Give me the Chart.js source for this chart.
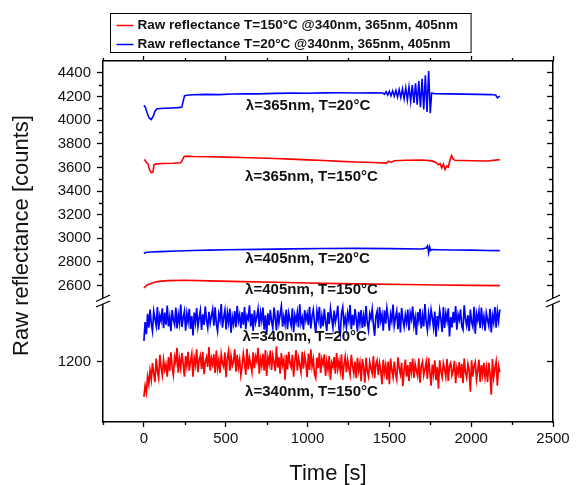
<!DOCTYPE html>
<html>
<head>
<meta charset="utf-8">
<script src="https://cdn.jsdelivr.net/npm/chart.js@4.4.1/dist/chart.umd.min.js"></script>
<style>
html, body { margin: 0; padding: 0; background: #fff; }
</style>
</head>
<body>
<canvas id="chart" width="578" height="485"></canvas>
<script>
// --- data ---
const legendLabels = [
    'Raw reflectance T=150\u00B0C @340nm, 365nm, 405nm',
    'Raw reflectance T=20\u00B0C @340nm, 365nm, 405nm'
];

const xTicks = [0, 500, 1000, 1500, 2000, 2500];
const xMinorTicks = [-250, 250, 750, 1250, 1750, 2250];
const yUpperTicks = [2600, 2800, 3000, 3200, 3400, 3600, 3800, 4000, 4200, 4400];
const yUpperMinorTicks = [2700, 2900, 3100, 3300, 3500, 3700, 3900, 4100, 4300];
const yLowerTicks = [1200];

// lambda = 365nm, T = 20C
const blue365Time = [0, 8, 20, 32, 45, 58, 68, 80, 100, 130,
    170, 210, 232, 240, 248, 260, 300, 380, 460, 540,
    620, 700, 800, 900, 1000, 1100, 1200, 1300, 1400, 1460,
    1470, 1480, 1490, 1500, 1510, 1520, 1530, 1540, 1550, 1560,
    1570, 1580, 1590, 1600, 1610, 1620, 1630, 1640, 1650, 1660,
    1670, 1680, 1690, 1700, 1710, 1720, 1730, 1740, 1750,
    1758, 1780, 1850, 1950, 2050, 2120, 2150, 2160, 2166, 2175];
const blue365Value = [4125, 4112, 4060, 4018, 4005, 4035, 4078, 4095, 4098, 4100,
    4103, 4106, 4110, 4160, 4205, 4210, 4214, 4218, 4216, 4221,
    4223, 4222, 4226, 4228, 4227, 4230, 4231, 4229, 4232, 4230,
    4218, 4240, 4212, 4244, 4206, 4248, 4202, 4252, 4196, 4258,
    4190, 4264, 4180, 4272, 4170, 4282, 4158, 4296, 4146, 4312,
    4130, 4330, 4110, 4350, 4090, 4380, 4068, 4415, 4058,
    4228, 4224, 4222, 4220, 4218, 4216, 4212, 4188, 4195, 4203];

// lambda = 365nm, T = 150C
const red365Time = [0, 8, 15, 25, 35, 45, 55, 62, 75, 120,
    180, 225, 235, 245, 260, 300, 400, 500, 600, 700,
    800, 900, 1000, 1100, 1200, 1300, 1400, 1480, 1495, 1510,
    1530, 1600, 1700, 1760, 1785, 1800, 1810, 1820, 1830, 1840,
    1850, 1860, 1870, 1880, 1890, 1900, 2000, 2100, 2175];
const red365Value = [3665, 3660, 3642, 3630, 3578, 3555, 3560, 3622, 3630, 3633,
    3635, 3640, 3662, 3690, 3695, 3692, 3690, 3687, 3684, 3680,
    3675, 3670, 3664, 3658, 3651, 3646, 3641, 3636, 3652, 3642,
    3656, 3660, 3663, 3655, 3642, 3622, 3632, 3596, 3626, 3582,
    3612, 3602, 3660, 3700, 3672, 3660, 3656, 3654, 3666];

// lambda = 405nm, T = 20C
const blue405Time = [0, 10, 40, 100, 200, 300, 400, 500, 700, 900,
    1100, 1300, 1500, 1700, 1725, 1733, 1740, 1746, 1752, 1760,
    1800, 1900, 2000, 2100, 2175];
const blue405Value = [2872, 2880, 2884, 2888, 2893, 2897, 2900, 2903, 2907, 2911,
    2914, 2915, 2913, 2910, 2918, 2936, 2878, 2928, 2898, 2906,
    2904, 2902, 2900, 2897, 2896];

// lambda = 405nm, T = 150C
const red405Time = [0, 8, 20, 40, 60, 90, 150, 250, 400, 600,
    800, 1000, 1200, 1400, 1600, 1800, 2000, 2175];
const red405Value = [2580, 2592, 2606, 2616, 2626, 2636, 2642, 2645, 2640, 2634,
    2628, 2622, 2617, 2613, 2609, 2605, 2602, 2600];

// lambda = 340nm, sampled every 7.5 s from t = 0
const sampleStep = 7.5;
const blue340Value = [
    1268, 1330, 1290, 1358, 1312, 1372, 1325, 1300, 1366, 1341, 1318, 1380, 1305, 1352, 1334, 1376, 1310, 1362, 1322, 1385,
    1316, 1348, 1300, 1370, 1338, 1322, 1378, 1309, 1355, 1327, 1388, 1314, 1345, 1366, 1302, 1359, 1331, 1374, 1308, 1350,
    1286, 1362, 1329, 1377, 1315, 1343, 1368, 1304, 1356, 1321, 1382, 1336, 1311, 1364, 1326, 1350, 1372, 1318, 1379, 1325,
    1300, 1357, 1337, 1390, 1312, 1346, 1370, 1306, 1361, 1330, 1375, 1295, 1348, 1324, 1367, 1313, 1384, 1333, 1354, 1310,
    1363, 1322, 1380, 1307, 1351, 1340, 1386, 1316, 1358, 1301, 1369, 1328, 1347, 1374, 1314, 1362, 1335, 1378, 1305, 1353,
    1289, 1359, 1320, 1371, 1333, 1311, 1378, 1344, 1303, 1369, 1327, 1356, 1384, 1315, 1349, 1323, 1372, 1307, 1360, 1338,
    1318, 1376, 1297, 1352, 1331, 1362, 1313, 1389, 1326, 1345, 1305, 1370, 1336, 1357, 1320, 1381, 1309, 1349, 1371, 1328,
    1294, 1366, 1339, 1381, 1309, 1350, 1317, 1374, 1332, 1301, 1363, 1324, 1375, 1343, 1312, 1368, 1330, 1352, 1384, 1306,
    1290, 1358, 1379, 1322, 1346, 1312, 1360, 1335, 1387, 1306, 1354, 1319, 1373, 1340, 1299, 1364, 1327, 1370, 1311, 1350,
    1315, 1383, 1329, 1304, 1358, 1341, 1373, 1322, 1285, 1348, 1365, 1310, 1380, 1334, 1355, 1302, 1369, 1325, 1376, 1343,
    1302, 1356, 1333, 1388, 1318, 1345, 1367, 1307, 1362, 1296, 1377, 1338, 1314, 1354, 1329, 1372, 1303, 1360, 1340, 1382,
    1320, 1346, 1288, 1363, 1335, 1374, 1309, 1352, 1316, 1390, 1331, 1303, 1357, 1325, 1371, 1344, 1312, 1365, 1282, 1350,
    1321, 1369, 1340, 1298, 1380, 1311, 1359, 1334, 1376, 1283, 1347, 1313, 1364, 1328, 1383, 1305, 1355, 1337, 1372, 1316,
    1305, 1386, 1342, 1318, 1353, 1300, 1372, 1330, 1315, 1381, 1292, 1358, 1336, 1366, 1310, 1378, 1324, 1349, 1302, 1360,
    1338, 1318, 1374, 1296, 1352, 1329, 1380, 1312, 1366, 1334, 1372];
const red340Value = [
    1083, 1120, 1098, 1150, 1125, 1170, 1140, 1195, 1160, 1132, 1210, 1168, 1145, 1222, 1180, 1155, 1205, 1172, 1190, 1150,
    1215, 1168, 1230, 1182, 1155, 1215, 1196, 1245, 1163, 1208, 1178, 1228, 1192, 1150, 1218, 1185, 1232, 1170, 1200, 1225,
    1150, 1212, 1188, 1240, 1165, 1205, 1220, 1175, 1232, 1158, 1198, 1214, 1182, 1248, 1170, 1210, 1190, 1224, 1162, 1236,
    1176, 1204, 1162, 1224, 1195, 1182, 1230, 1148, 1212, 1235, 1170, 1218, 1186, 1200, 1240, 1166, 1222, 1180, 1206, 1155,
    1183, 1226, 1196, 1156, 1242, 1174, 1212, 1190, 1166, 1230, 1178, 1216, 1200, 1245, 1160, 1208, 1185, 1225, 1170, 1238,
    1152, 1214, 1192, 1236, 1172, 1220, 1198, 1168, 1250, 1180, 1214, 1160, 1228, 1188, 1206, 1140, 1222, 1174, 1232, 1195,
    1181, 1222, 1150, 1205, 1238, 1170, 1211, 1188, 1164, 1232, 1176, 1219, 1194, 1148, 1226, 1172, 1240, 1184, 1208, 1158,
    1145, 1213, 1178, 1229, 1162, 1208, 1190, 1224, 1152, 1200, 1172, 1218, 1140, 1196, 1182, 1215, 1160, 1228, 1175, 1202,
    1170, 1224, 1140, 1190, 1216, 1165, 1205, 1178, 1155, 1222, 1186, 1160, 1200, 1145, 1212, 1170, 1196, 1135, 1208, 1180,
    1130, 1212, 1168, 1150, 1198, 1176, 1160, 1218, 1145, 1190, 1204, 1156, 1195, 1170, 1125, 1206, 1162, 1188, 1140, 1200,
    1125, 1210, 1172, 1148, 1200, 1160, 1140, 1214, 1180, 1158, 1196, 1118, 1170, 1206, 1150, 1188, 1135, 1198, 1165, 1210,
    1146, 1192, 1170, 1152, 1210, 1130, 1185, 1200, 1155, 1175, 1198, 1142, 1212, 1165, 1120, 1190, 1158, 1204, 1138, 1182,
    1110, 1204, 1168, 1148, 1194, 1175, 1150, 1208, 1136, 1186, 1196, 1154, 1170, 1202, 1128, 1180, 1160, 1198, 1145, 1192,
    1128, 1210, 1164, 1146, 1192, 1172, 1100, 1204, 1150, 1185, 1198, 1140, 1170, 1206, 1132, 1188, 1155, 1196, 1148, 1180,
    1132, 1196, 1160, 1090, 1208, 1148, 1178, 1200, 1120, 1185, 1165];

const annotations = [
    { text: '\u03BB=365nm, T=20\u00B0C', t: 1003, v: 4117, axis: 'yUp' },
    { text: '\u03BB=365nm, T=150\u00B0C', t: 1024, v: 3521, axis: 'yUp' },
    { text: '\u03BB=405nm, T=20\u00B0C', t: 1000, v: 2826, axis: 'yUp' },
    { text: '\u03BB=405nm, T=150\u00B0C', t: 1024, v: 2563, axis: 'yUp' },
    { text: '\u03BB=340nm, T=20\u00B0C', t: 982, v: 1282, axis: 'yLow' },
    { text: '\u03BB=340nm, T=150\u00B0C', t: 1024, v: 1101, axis: 'yLow' }
];

const RED = '#ff0000';
const BLUE = '#0000ff';
const FONT = '"Liberation Sans", Arial, sans-serif';

function pairs(times, values) {
    return values.map((v, i) => ({ x: times[i], y: v }));
}
function sampled(values) {
    return values.map((v, i) => ({ x: i * sampleStep, y: v }));
}

function lineSet(data, color, axis, width) {
    return {
        data: data,
        borderColor: color,
        borderWidth: width,
        pointRadius: 0,
        tension: 0,
        fill: false,
        yAxisID: axis
    };
}

// fixed tick lists
function setTicks(list) {
    return scale => { scale.ticks = list.map(v => ({ value: v })); };
}

const axisGrid = {
    display: true,
    drawOnChartArea: false,
    drawTicks: true,
    tickLength: 6,
    tickWidth: 1.3,
    tickColor: '#000'
};
const axisBorder = { display: true, color: '#000', width: 1.5 };
const tickFont = { family: FONT, size: 15 };

// minor ticks, axis breaks, titles, labels, legend
const decorPlugin = {
    id: 'decor',
    afterDraw(chart) {
        const ctx = chart.ctx;
        const area = chart.chartArea;
        const sx = chart.scales.x;
        const yUp = chart.scales.yUp;
        const yLow = chart.scales.yLow;
        ctx.save();
        ctx.strokeStyle = '#000';
        ctx.lineWidth = 1.3;

        ctx.beginPath();
        xMinorTicks.forEach(v => {
            const px = Math.round(sx.getPixelForValue(v)) + 0.5;
            ctx.moveTo(px, area.bottom);
            ctx.lineTo(px, area.bottom + 3);
            ctx.moveTo(px, area.top);
            ctx.lineTo(px, area.top - 3);
        });
        yUpperMinorTicks.forEach(v => {
            const py = Math.round(yUp.getPixelForValue(v)) + 0.5;
            ctx.moveTo(area.left - 4, py);
            ctx.lineTo(area.left, py);
            ctx.moveTo(area.right, py);
            ctx.lineTo(area.right - 4, py);
        });
        ctx.stroke();

        // axis break marks
        const by = yLow.top;
        [area.left, area.right].forEach(bx => {
            ctx.fillStyle = '#fff';
            ctx.beginPath();
            ctx.moveTo(bx - 7, by + 0.5);
            ctx.lineTo(bx + 7, by - 6);
            ctx.lineTo(bx + 7, by);
            ctx.lineTo(bx - 7, by + 6);
            ctx.closePath();
            ctx.fill();
            ctx.beginPath();
            ctx.moveTo(bx - 7, by + 0.5);
            ctx.lineTo(bx + 7, by - 6);
            ctx.moveTo(bx - 7, by + 6);
            ctx.lineTo(bx + 7, by);
            ctx.stroke();
        });

        // y title
        ctx.fillStyle = '#111';
        ctx.font = '22px ' + FONT;
        ctx.textAlign = 'center';
        ctx.textBaseline = 'middle';
        ctx.save();
        ctx.translate(22, (area.top + area.bottom) / 2 - 6);
        ctx.rotate(-Math.PI / 2);
        ctx.fillText('Raw reflectance [counts]', 0, 0);
        ctx.restore();

        // curve labels
        ctx.font = 'bold 15px ' + FONT;
        annotations.forEach(a => {
            const sc = chart.scales[a.axis];
            ctx.fillText(a.text, sx.getPixelForValue(a.t), sc.getPixelForValue(a.v));
        });

        // legend box
        ctx.font = 'bold 13.5px ' + FONT;
        ctx.textAlign = 'left';
        const w = Math.max(...legendLabels.map(s => ctx.measureText(s).width));
        const boxW = w + 6 + 17 + 4 + 13;
        const boxL = Math.round(chart.width / 2 + 1 - boxW / 2) + 0.5;
        const boxT = 13.5;
        ctx.lineWidth = 1;
        ctx.strokeRect(boxL, boxT, boxW, 39);
        [RED, BLUE].forEach((c, i) => {
            const ly = boxT + 12 + i * 19;
            ctx.strokeStyle = c;
            ctx.lineWidth = 1.5;
            ctx.beginPath();
            ctx.moveTo(boxL + 6, ly);
            ctx.lineTo(boxL + 23, ly);
            ctx.stroke();
            ctx.fillStyle = '#111';
            ctx.fillText(legendLabels[i], boxL + 27, ly);
        });
        ctx.restore();
    }
};

new Chart(document.getElementById('chart'), {
    type: 'line',
    data: {
        datasets: [
            lineSet(pairs(blue365Time, blue365Value), BLUE, 'yUp', 1.6),
            lineSet(pairs(red365Time, red365Value), RED, 'yUp', 1.6),
            lineSet(pairs(blue405Time, blue405Value), BLUE, 'yUp', 1.6),
            lineSet(pairs(red405Time, red405Value), RED, 'yUp', 1.6),
            lineSet(sampled(blue340Value), BLUE, 'yLow', 1.7),
            lineSet(sampled(red340Value), RED, 'yLow', 1.7)
        ]
    },
    options: {
        responsive: false,
        devicePixelRatio: 1,
        animation: false,
        layout: { padding: 0 },
        plugins: {
            legend: { display: false },
            tooltip: { enabled: false }
        },
        scales: {
            x: {
                type: 'linear',
                position: 'bottom',
                min: -250,
                max: 2500,
                afterBuildTicks: setTicks(xTicks),
                afterFit: s => { s.height = 63; },
                ticks: { font: tickFont, color: '#111', padding: 3, maxRotation: 0, autoSkip: false, callback: v => String(v) },
                grid: Object.assign({}, axisGrid, { tickLength: 5 }),
                border: axisBorder,
                title: {
                    display: true,
                    text: 'Time [s]',
                    color: '#111',
                    font: { family: FONT, size: 22, lineHeight: 1 },
                    padding: { top: 0, bottom: 0 }
                }
            },
            xTop: {
                type: 'linear',
                position: 'top',
                min: -250,
                max: 2500,
                afterBuildTicks: setTicks(xTicks),
                afterFit: s => { s.height = 61; },
                ticks: { display: false },
                grid: Object.assign({}, axisGrid, { tickLength: 5 }),
                border: axisBorder
            },
            yUp: {
                type: 'linear',
                position: 'left',
                stack: 'left',
                stackWeight: 240,
                weight: 1,
                min: 2470,
                max: 4500,
                afterBuildTicks: setTicks(yUpperTicks),
                afterFit: s => { s.width = 103; },
                ticks: { font: tickFont, color: '#111', padding: 6, autoSkip: false, callback: v => String(v) },
                grid: axisGrid,
                border: axisBorder
            },
            yLow: {
                type: 'linear',
                position: 'left',
                stack: 'left',
                stackWeight: 121,
                weight: 0,
                min: 1000,
                max: 1400,
                afterBuildTicks: setTicks(yLowerTicks),
                afterFit: s => { s.width = 103; },
                ticks: { font: tickFont, color: '#111', padding: 6, autoSkip: false, callback: v => String(v) },
                grid: axisGrid,
                border: axisBorder
            },
            yUpR: {
                type: 'linear',
                position: 'right',
                stack: 'right',
                stackWeight: 240,
                weight: 0,
                min: 2470,
                max: 4500,
                afterBuildTicks: setTicks(yUpperTicks),
                afterFit: s => { s.width = 25; },
                ticks: { display: false },
                grid: Object.assign({}, axisGrid, { tickLength: -6 }),
                border: axisBorder
            },
            yLowR: {
                type: 'linear',
                position: 'right',
                stack: 'right',
                stackWeight: 121,
                weight: 1,
                min: 1000,
                max: 1400,
                afterBuildTicks: setTicks(yLowerTicks),
                afterFit: s => { s.width = 25; },
                ticks: { display: false },
                grid: Object.assign({}, axisGrid, { tickLength: -6 }),
                border: axisBorder
            }
        }
    },
    plugins: [decorPlugin]
});
</script>
</body>
</html>
